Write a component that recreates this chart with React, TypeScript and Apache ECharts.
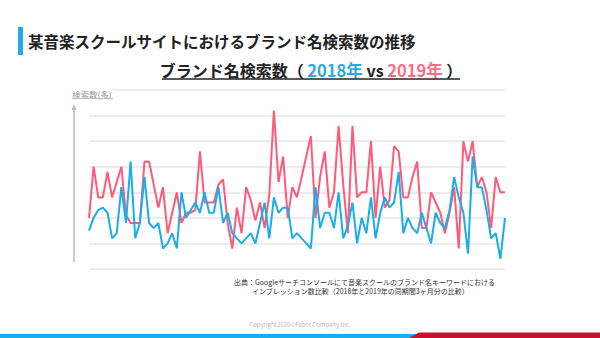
import React, { useEffect, useRef } from "react";
import * as echarts from "echarts";

const TITLE = "某音楽スクールサイトにおけるブランド名検索数の推移";
const SUB_PRE = "ブランド名検索数（ ";
const SUB_2018 = "2018年";
const SUB_VS = " vs ";
const SUB_2019 = "2019年";
const SUB_POST = " ）";
const Y_LABEL = "検索数(多)";
const SOURCE_1 = "出典：Googleサーチコンソールにて音楽スクールのブランド名キーワードにおける";
const SOURCE_2 = "インプレッション数比較（2018年と2019年の同期間3ヶ月分の比較）";
const COPYRIGHT = "Copyright2020©Faber Company Inc.";

const days: string[] = Array.from({ length: 91 }, (_, i) => `${i + 1}日目`);

const series2018: number[] = [
  1.5, 2.0, 2.3, 2.4, 2.2, 1.2, 1.4, 3.2, 1.8, 4.2, 1.2, 1.8, 3.6, 1.8, 1.6, 1.8, 0.8, 1.0, 1.4, 0.8, 3.0, 2.0, 2.3,
  2.6, 2.2, 3.0, 2.2, 2.2, 3.2, 1.8, 2.2, 1.4, 1.2, 1.0, 1.2, 1.4, 1.0, 1.8, 2.6, 1.2, 2.8, 2.2, 2.4, 2.4, 1.2, 1.4,
  1.2, 1.0, 0.8, 3.2, 1.6, 2.2, 2.2, 1.6, 3.0, 1.2, 1.7, 2.6, 1.0, 2.0, 1.4, 2.8, 1.2, 2.2, 2.8, 2.4, 2.6, 3.8, 1.4,
  2.0, 1.6, 1.4, 2.2, 1.6, 1.0, 2.2, 1.8, 1.6, 2.3, 3.6, 2.8, 2.2, 0.6, 4.4, 3.2, 3.2, 2.3, 1.2, 1.4, 0.4, 2.0,
];

const series2019: number[] = [
  2.0, 4.0, 2.8, 2.8, 3.8, 2.8, 3.4, 4.0, 2.1, 1.8, 1.8, 1.8, 4.2, 4.2, 3.3, 2.4, 3.2, 1.4, 2.2, 3.0, 1.8, 2.2, 2.2,
  2.3, 4.6, 2.6, 2.6, 2.6, 3.3, 3.5, 1.8, 0.8, 2.4, 1.4, 3.2, 2.7, 1.9, 2.6, 1.6, 2.9, 6.2, 3.4, 4.4, 2.0, 3.2, 2.8,
  3.6, 4.4, 5.2, 2.0, 3.6, 4.6, 2.4, 3.0, 5.6, 3.3, 1.4, 5.6, 2.8, 3.0, 3.0, 5.0, 2.0, 4.0, 2.4, 2.7, 4.8, 4.6, 2.8,
  2.8, 3.6, 4.2, 1.6, 1.6, 3.0, 2.6, 2.2, 1.4, 2.2, 3.2, 0.8, 5.0, 4.2, 5.0, 3.2, 3.6, 3.0, 1.6, 3.6, 3.0, 3.0,
];

const BLUE = "#1aade8";
const RED = "#ff5a7a";
const FONT = "'Noto Sans CJK JP', 'Noto Sans', sans-serif";

export default function App() {
  const ref = useRef<HTMLDivElement>(null);
  useEffect(() => {
    if (!ref.current) return;
    const chart = echarts.init(ref.current, null, { renderer: "svg" });
    chart.setOption({
      animation: false,
      backgroundColor: "#ffffff",
      textStyle: { fontFamily: FONT },
      grid: { left: 89, right: 95, top: 90, bottom: 69 },
      xAxis: {
        type: "category",
        data: days,
        boundaryGap: false,
        axisLine: { show: false },
        axisTick: { show: false },
        axisLabel: { show: false },
        splitLine: { show: false },
      },
      yAxis: {
        type: "value",
        min: 0,
        max: 7,
        interval: 1,
        axisLine: { show: false },
        axisTick: { show: false },
        axisLabel: { show: false },
        splitLine: { show: true, lineStyle: { color: "#e6e6e6", width: 1.5 } },
      },
      series: [
        {
          name: "2019年",
          type: "line",
          data: series2019,
          showSymbol: false,
          symbol: "none",
          lineStyle: { color: RED, width: 2 },
          itemStyle: { color: RED },
          z: 2,
        },
        {
          name: "2018年",
          type: "line",
          data: series2018,
          showSymbol: false,
          symbol: "none",
          lineStyle: { color: BLUE, width: 2 },
          itemStyle: { color: BLUE },
          z: 3,
        },
      ],
      graphic: [
        { type: "rect", shape: { x: 18, y: 27, width: 5, height: 28 }, style: { fill: "#29abe2" } },
        {
          type: "text",
          x: 28,
          y: 41,
          style: {
            text: TITLE,
            fontFamily: FONT,
            fontSize: 15.5,
            fontWeight: "bold",
            fill: "#222",
            verticalAlign: "middle",
          },
        },
        {
          type: "text",
          x: 311,
          y: 70,
          style: {
            text: `{a|${SUB_PRE}}{b|${SUB_2018}}{a|${SUB_VS}}{c|${SUB_2019}}{a|${SUB_POST}}`,
            align: "center",
            verticalAlign: "middle",
            rich: {
              a: { fontFamily: FONT, fontSize: 16, fontWeight: "bold", fill: "#222", color: "#222" },
              b: { fontFamily: FONT, fontSize: 16.5, fontWeight: "bold", fill: "#29abe2", color: "#29abe2" },
              c: { fontFamily: FONT, fontSize: 16.5, fontWeight: "bold", fill: "#ff6b86", color: "#ff6b86" },
            },
          },
        },
        { type: "line", shape: { x1: 162, y1: 79, x2: 460, y2: 79 }, style: { stroke: "#222", lineWidth: 1.3 } },
        {
          type: "text",
          x: 71,
          y: 94,
          z: 10,
          style: {
            text: Y_LABEL,
            fontFamily: FONT,
            fontSize: 8.5,
            fill: "#999",
            verticalAlign: "middle",
            backgroundColor: "#fff",
            padding: [2, 1, 2, 1],
          },
        },
        { type: "line", z: 11, shape: { x1: 72, y1: 98.5, x2: 113, y2: 98.5 }, style: { stroke: "#bbb", lineWidth: 1 } },
        { type: "line", shape: { x1: 74, y1: 107, x2: 74, y2: 262 }, style: { stroke: "#bbb", lineWidth: 1.5 } },
        { type: "polygon", shape: { points: [[71.5, 110], [74, 104], [76.5, 110]] }, style: { fill: "#bbb" } },
        {
          type: "text",
          x: 234,
          y: 282,
          style: { text: SOURCE_1, fontFamily: FONT, fontSize: 7, fill: "#333", verticalAlign: "middle" },
        },
        {
          type: "text",
          x: 252,
          y: 290.5,
          style: { text: SOURCE_2, fontFamily: FONT, fontSize: 7, fill: "#333", verticalAlign: "middle" },
        },
        {
          type: "text",
          x: 300,
          y: 324,
          style: { text: COPYRIGHT, fontFamily: FONT, fontSize: 6, fill: "#bbb", align: "center", verticalAlign: "middle" },
        },
        { type: "rect", shape: { x: 0, y: 334, width: 416, height: 4 }, style: { fill: "#1aade8" } },
        {
          type: "polygon",
          shape: { points: [[409, 338], [419, 332.5], [600, 332.5], [600, 338]] },
          style: { fill: "#c8102e" },
        },
      ],
    });
    return () => chart.dispose();
  }, []);
  return (
    <div
      ref={ref}
      style={{ position: "fixed", left: 0, top: 0, width: 600, height: 338, background: "#fff" }}
    />
  );
}
